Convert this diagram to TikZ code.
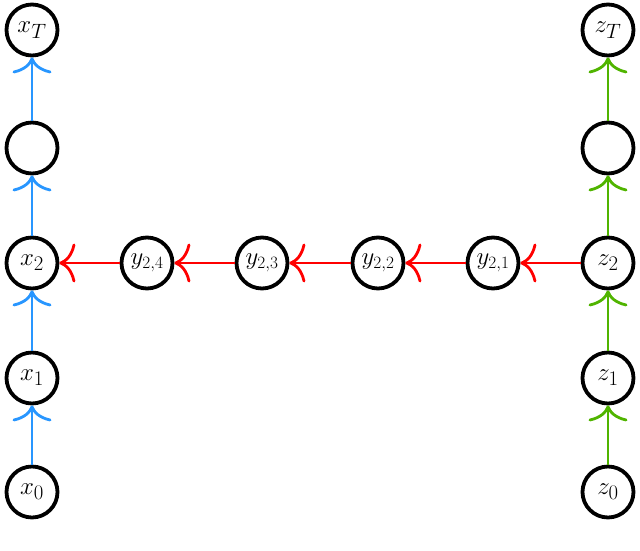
\documentclass[tikz,border=0pt]{standalone}
\usetikzlibrary{arrows.meta}
\definecolor{cblue}{RGB}{40,150,255}
\definecolor{cgreen}{RGB}{80,180,0}
\definecolor{cred}{RGB}{255,0,0}
\begin{document}
\begin{tikzpicture}[x=1pt,y=1pt,
  var/.style={circle,draw=black,line width=3.8pt,minimum size=51pt,inner sep=0pt,fill=white,font=\fontsize{28}{32}\selectfont},
  yvar/.style={var,font=\fontsize{23}{27}\selectfont},
  edge/.style={line width=2.8pt,-{To[length=16pt,width=39pt]}}]
\useasboundingbox (0,0) rectangle (640,-550);
\node[var] (x0) at (32,-492) {$x_0$};
\node[var] (x1) at (32,-378) {$x_1$};
\node[var] (x2) at (32,-263) {$x_2$};
\node[var] (x3) at (32,-148) {};
\node[var] (xT) at (32,-30) {$x_T$};
\node[var] (z0) at (608,-492) {$z_0$};
\node[var] (z1) at (608,-378) {$z_1$};
\node[var] (z2) at (608,-263) {$z_2$};
\node[var] (z3) at (608,-148) {};
\node[var] (zT) at (608,-30) {$z_T$};
\node[yvar] (y1) at (493,-263) {$y_{2,1}$};
\node[yvar] (y2) at (378,-263) {$y_{2,2}$};
\node[yvar] (y3) at (262,-263) {$y_{2,3}$};
\node[yvar] (y4) at (147,-263) {$y_{2,4}$};
\draw[edge,cblue] (x0) -- (x1);
\draw[edge,cblue] (x1) -- (x2);
\draw[edge,cblue] (x2) -- (x3);
\draw[edge,cblue] (x3) -- (xT);
\draw[edge,cgreen] (z0) -- (z1);
\draw[edge,cgreen] (z1) -- (z2);
\draw[edge,cgreen] (z2) -- (z3);
\draw[edge,cgreen] (z3) -- (zT);
\draw[edge,cred] (z2) -- (y1);
\draw[edge,cred] (y1) -- (y2);
\draw[edge,cred] (y2) -- (y3);
\draw[edge,cred] (y3) -- (y4);
\draw[edge,cred] (y4) -- (x2);
\end{tikzpicture}
\end{document}
